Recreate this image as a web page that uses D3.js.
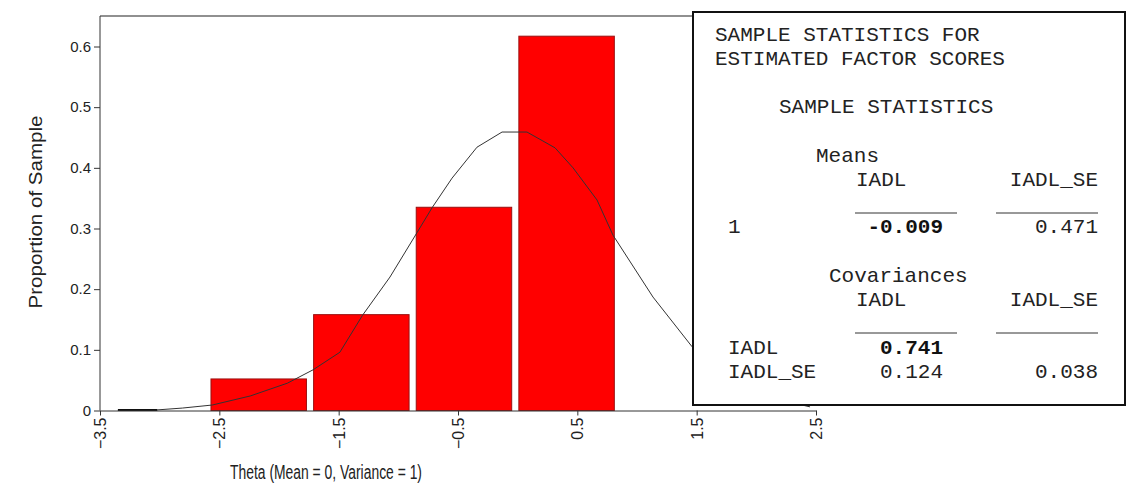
<!DOCTYPE html>
<html lang="en">
<head>
    <meta charset="UTF-8">
    <title>Theta histogram</title>
    <style>
        body {
            margin: 0;
            padding: 0;
            background: #fff;
            overflow: hidden;
        }

        .tick-label {
            font-family: "Liberation Sans", Arial, sans-serif;
            font-size: 15px;
            fill: #222;
        }

        .axis-title {
            font-family: "Liberation Sans", Arial, sans-serif;
            font-size: 20px;
            fill: #222;
        }

        .box-text {
            font-family: "Liberation Mono", "Courier New", monospace;
            font-size: 21px;
            fill: #222;
            white-space: pre;
        }

        .box-text.bold {
            font-weight: bold;
            fill: #111;
        }
    </style>
</head>
<body>
    <script src="https://d3js.org/d3.v7.min.js"></script>
    <script>
        // histogram bins (theta) and proportions
        const binStart = [-2.57, -1.71, -0.85, 0.01];
        const binEnd = [-1.77, -0.91, -0.05, 0.81];
        const proportions = [0.052, 0.158, 0.335, 0.617];

        // normal curve points
        const curveTheta = [-3.35, -3.02, -2.81, -2.56, -2.24, -1.93, -1.715, -1.49, -1.30, -1.07,
            -0.844, -0.718, -0.55, -0.341, -0.131, 0.078, 0.313, 0.464, 0.665, 0.799,
            1.134, 1.462, 1.8, 2.1, 2.45];
        const curveDensity = [0.000, 0.001, 0.004, 0.009, 0.024, 0.045, 0.067, 0.096, 0.157, 0.220,
            0.293, 0.334, 0.383, 0.434, 0.459, 0.459, 0.433, 0.400, 0.347, 0.289,
            0.187, 0.105, 0.050, 0.022, 0.006];

        const xTicks = [-3.5, -2.5, -1.5, -0.5, 0.5, 1.5, 2.5];
        const yTicks = [0, 0.1, 0.2, 0.3, 0.4, 0.5, 0.6];

        const xTitle = "Theta (Mean = 0, Variance = 1)";
        const yTitle = "Proportion of Sample";

        // stats box contents
        const boxTitle = ["SAMPLE STATISTICS FOR", "ESTIMATED FACTOR SCORES"];
        const boxSub = "SAMPLE STATISTICS";
        const colNames = ["IADL", "IADL_SE"];
        const meanRow = { label: "1", values: ["-0.009", "0.471"] };
        const covRows = [
            { label: "IADL", values: ["0.741", ""] },
            { label: "IADL_SE", values: ["0.124", "0.038"] }
        ];

        const width = 1129;
        const height = 490;

        const svg = d3.select("body").append("svg")
            .attr("width", width)
            .attr("height", height);

        const x = d3.scaleLinear().domain([-3.5, 2.5]).range([100, 816]);
        const y = d3.scaleLinear().domain([0, 0.6]).range([410.5, 46.5]);
        const plotTop = 16;

        // top frame line
        svg.append("line")
            .attr("x1", x(-3.5)).attr("x2", x(2.5))
            .attr("y1", plotTop).attr("y2", plotTop)
            .attr("stroke", "#222").attr("stroke-width", 1.2);

        // bars
        svg.append("g")
            .selectAll("rect")
            .data(proportions)
            .enter().append("rect")
            .attr("x", (d, i) => x(binStart[i]))
            .attr("width", (d, i) => x(binEnd[i]) - x(binStart[i]))
            .attr("y", d => y(d))
            .attr("height", d => y(0) - y(d))
            .attr("fill", "#ff0000")
            .attr("stroke", "#9a1010")
            .attr("stroke-width", 1);

        // normal curve
        const line = d3.line()
            .x((d, i) => x(curveTheta[i]))
            .y(d => y(d));

        svg.append("path")
            .attr("d", line(curveDensity))
            .attr("fill", "none")
            .attr("stroke", "#333")
            .attr("stroke-width", 1);

        // heavier stretch of curve hugging the axis at far left
        svg.append("line")
            .attr("x1", x(curveTheta[0])).attr("x2", x(curveTheta[1]))
            .attr("y1", y(0) - 0.5).attr("y2", y(0) - 0.5)
            .attr("stroke", "#111").attr("stroke-width", 2);

        // y axis
        const yAxis = svg.append("g")
            .attr("transform", `translate(${x(-3.5)},0)`)
            .call(d3.axisLeft(y).tickValues(yTicks).tickSize(6).tickSizeOuter(0)
                .tickFormat(d => d === 0 ? "0" : d3.format(".1f")(d)));
        yAxis.attr("font-size", null).attr("font-family", null);
        yAxis.select(".domain").attr("d", `M0,${plotTop}V${y(0)}`).attr("stroke", "#333");
        yAxis.selectAll(".tick line").attr("stroke", "#333");
        yAxis.selectAll(".tick text")
            .attr("class", "tick-label")
            .attr("x", -9);

        // x axis
        const xAxis = svg.append("g")
            .attr("transform", `translate(0,${y(0)})`)
            .call(d3.axisBottom(x).tickValues(xTicks).tickSize(5).tickSizeOuter(0)
                .tickFormat(d3.format(".1f")));
        xAxis.attr("font-size", null).attr("font-family", null);
        xAxis.select(".domain").attr("stroke", "#333");
        xAxis.selectAll(".tick line").attr("stroke", "#333");
        xAxis.selectAll(".tick text")
            .attr("class", "tick-label")
            .style("font-size", "16px")
            .attr("y", 0)
            .attr("dy", "0.35em")
            .attr("text-anchor", "end")
            .attr("transform", "translate(0,7) rotate(-90)");

        // axis titles
        svg.append("text")
            .attr("class", "axis-title")
            .attr("x", 326).attr("y", 479)
            .attr("text-anchor", "middle")
            .attr("textLength", 192)
            .attr("lengthAdjust", "spacingAndGlyphs")
            .text(xTitle);

        svg.append("text")
            .attr("class", "axis-title")
            .attr("transform", "translate(42,212) rotate(-90)")
            .attr("text-anchor", "middle")
            .style("font-size", "19px")
            .attr("textLength", 193)
            .attr("lengthAdjust", "spacingAndGlyphs")
            .text(yTitle);

        // stats box
        const box = svg.append("g");
        box.append("rect")
            .attr("x", 693).attr("y", 12)
            .attr("width", 432).attr("height", 393)
            .attr("fill", "#fff")
            .attr("stroke", "#111")
            .attr("stroke-width", 2);

        const leftX = 715;
        const midEnd = 943;
        const rightEnd = 1098;

        boxTitle.forEach((t, i) => {
            box.append("text").attr("class", "box-text")
                .attr("x", leftX).attr("y", 41 + i * 23.5).text(t);
        });
        box.append("text").attr("class", "box-text")
            .attr("x", 779).attr("y", 113).text(boxSub);

        function header(label, labelX, baseY) {
            box.append("text").attr("class", "box-text")
                .attr("x", labelX).attr("y", baseY).text(label);
            box.append("text").attr("class", "box-text")
                .attr("x", 856).attr("y", baseY + 23.5).text(colNames[0]);
            box.append("text").attr("class", "box-text")
                .attr("x", rightEnd).attr("y", baseY + 23.5)
                .attr("text-anchor", "end").text(colNames[1]);
            box.append("line")
                .attr("x1", 855).attr("x2", 957)
                .attr("y1", baseY + 51).attr("y2", baseY + 51)
                .attr("stroke", "#333").attr("stroke-width", 1);
            box.append("line")
                .attr("x1", 996).attr("x2", rightEnd)
                .attr("y1", baseY + 51).attr("y2", baseY + 51)
                .attr("stroke", "#333").attr("stroke-width", 1);
        }

        function row(r, baseY, boldFirst) {
            box.append("text").attr("class", "box-text")
                .attr("x", 728).attr("y", baseY).text(r.label);
            box.append("text").attr("class", boldFirst ? "box-text bold" : "box-text")
                .attr("x", midEnd).attr("y", baseY)
                .attr("text-anchor", "end").text(r.values[0]);
            box.append("text").attr("class", "box-text")
                .attr("x", rightEnd).attr("y", baseY)
                .attr("text-anchor", "end").text(r.values[1]);
        }

        header("Means", 816, 162);
        row(meanRow, 233, true);

        header("Covariances", 829, 282);
        row(covRows[0], 354, true);
        row(covRows[1], 378, false);
    </script>
</body>
</html>
